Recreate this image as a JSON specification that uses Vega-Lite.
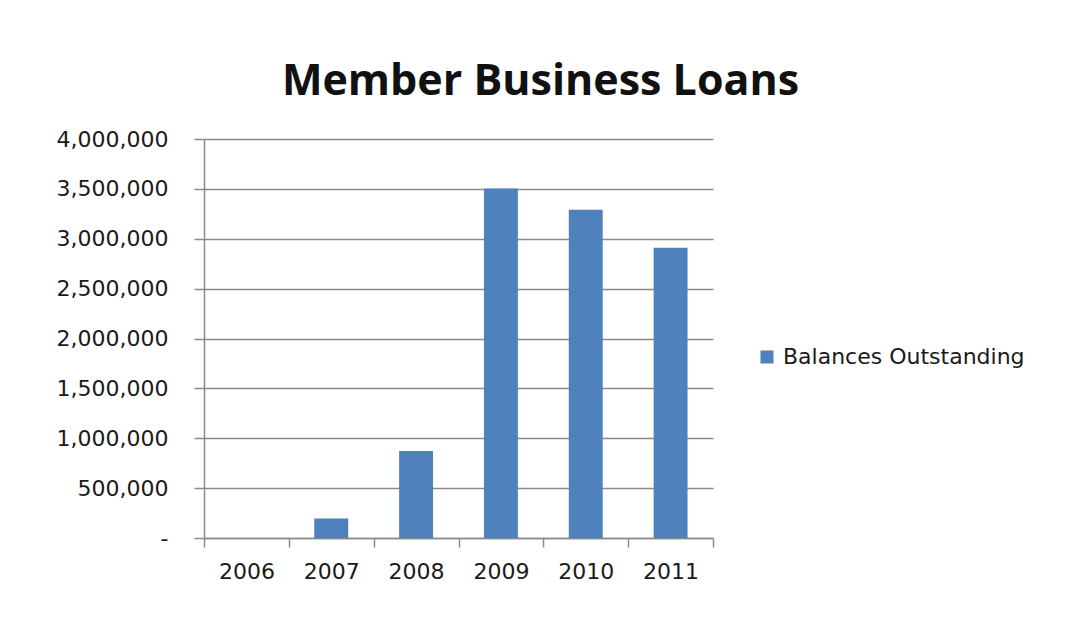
{
  "$schema": "https://vega.github.io/schema/vega-lite/v6.json",
  "autosize": {"type": "none"},
  "width": 509,
  "height": 399,
  "padding": {"left": 204, "top": 139, "right": 364, "bottom": 85},
  "background": "white",
  "title": {
    "text": "Member Business Loans",
    "font": "Open Sans",
    "fontSize": 43,
    "fontWeight": "bold",
    "color": "#111111",
    "anchor": "middle",
    "frame": "bounds",
    "offset": 24
  },
  "data": {
    "values": [
      {"year": "2006", "balance": 0, "series": "Balances Outstanding"},
      {"year": "2007", "balance": 195000, "series": "Balances Outstanding"},
      {"year": "2008", "balance": 872000, "series": "Balances Outstanding"},
      {"year": "2009", "balance": 3505000, "series": "Balances Outstanding"},
      {"year": "2010", "balance": 3290000, "series": "Balances Outstanding"},
      {"year": "2011", "balance": 2910000, "series": "Balances Outstanding"}
    ]
  },
  "mark": {"type": "bar", "width": {"band": 0.4}},
  "encoding": {
    "x": {
      "field": "year",
      "type": "ordinal",
      "scale": {"paddingInner": 0, "paddingOuter": 0},
      "axis": {
        "title": null,
        "labelAngle": 0,
        "labelFont": "DejaVu Sans",
        "labelFontSize": 22,
        "labelColor": "#1a1a1a",
        "labelPadding": 14,
        "tickBand": "extent",
        "tickSize": 9,
        "tickColor": "#8a8a8a",
        "tickWidth": 1.5,
        "domainColor": "#8a8a8a",
        "domainWidth": 1.5,
        "grid": false
      }
    },
    "y": {
      "field": "balance",
      "type": "quantitative",
      "scale": {"domain": [0, 4000000]},
      "axis": {
        "title": null,
        "values": [0, 500000, 1000000, 1500000, 2000000, 2500000, 3000000, 3500000, 4000000],
        "labelExpr": "datum.value == 0 ? '-' : format(datum.value, ',')",
        "labelFont": "DejaVu Sans",
        "labelFontSize": 22,
        "labelColor": "#1a1a1a",
        "labelPadding": 26,
        "tickSize": 10,
        "tickColor": "#8a8a8a",
        "tickWidth": 1.5,
        "domainColor": "#8a8a8a",
        "domainWidth": 1.5,
        "grid": true,
        "gridColor": "#8a8a8a",
        "gridWidth": 1.5,
        "encode": {
          "labels": {
            "update": {
              "dx": {"signal": "datum.value == 0 ? -11 : 0"}
            }
          }
        }
      }
    },
    "color": {
      "field": "series",
      "type": "nominal",
      "scale": {"range": ["#4F81BD"]},
      "legend": {
        "title": null,
        "orient": "none",
        "legendX": 552,
        "legendY": 207,
        "symbolType": "square",
        "symbolSize": 170,
        "symbolStrokeWidth": 0,
        "labelFont": "DejaVu Sans",
        "labelFontSize": 22,
        "labelColor": "#1a1a1a",
        "labelOffset": 5,
        "labelLimit": 0
      }
    }
  },
  "config": {
    "view": {"stroke": null}
  }
}
